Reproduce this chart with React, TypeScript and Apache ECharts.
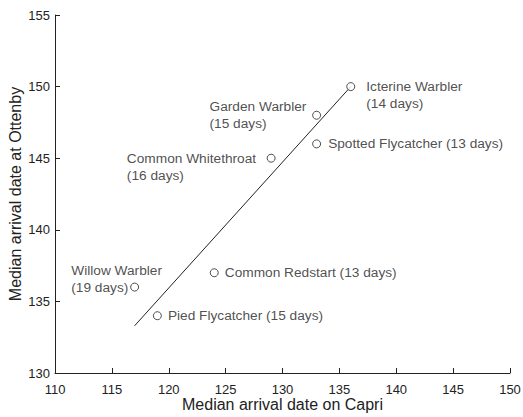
import React, { useEffect, useRef } from "react";
import * as echarts from "echarts";

const species = [
  "Icterine Warbler",
  "Garden Warbler",
  "Spotted Flycatcher",
  "Common Whitethroat",
  "Common Redstart",
  "Willow Warbler",
  "Pied Flycatcher",
];
const capriDates = [136, 133, 133, 129, 124, 117, 119];
const ottenbyDates = [150, 148, 146, 145, 137, 136, 134];
const travelDays = [14, 15, 13, 16, 13, 19, 15];
const fitLine = [
  [117, 133.3],
  [136, 150],
];
const xTicks = { min: 110, max: 150, interval: 5 };
const yTicks = { min: 130, max: 155, interval: 5 };

// label layout: offset of text box top-left from the marker centre, and whether to break line
const labelLayout: Record<string, { dx: number; dy: number; multi: boolean }> = {
  "Icterine Warbler": { dx: 16, dy: -8.5, multi: true },
  "Garden Warbler": { dx: -106.6, dy: -16.7, multi: true },
  "Spotted Flycatcher": { dx: 12, dy: -8.5, multi: false },
  "Common Whitethroat": { dx: -143.8, dy: -8.1, multi: true },
  "Common Redstart": { dx: 11, dy: -8.5, multi: false },
  "Willow Warbler": { dx: -62.9, dy: -24.5, multi: true },
  "Pied Flycatcher": { dx: 11, dy: -8.5, multi: false },
};

const FONT = "'Liberation Sans', Arial, Helvetica, sans-serif";
const SYM = 8;
const INK = "#222";

export default function App() {
  const ref = useRef<HTMLDivElement>(null);
  useEffect(() => {
    if (!ref.current) return;
    const chart = echarts.init(ref.current, undefined, { renderer: "svg" });
    const points = species.map((name, i) => {
      const l = labelLayout[name];
      const text = `${name}${l.multi ? "\n" : " "}(${travelDays[i]} days)`;
      return {
        name,
        value: [capriDates[i], ottenbyDates[i]],
        label: {
          show: true,
          formatter: text,
          position: [l.dx + SYM / 2, l.dy + SYM / 2],
          align: "left",
          verticalAlign: "top",
        },
      };
    });
    chart.setOption({
      animation: false,
      backgroundColor: "#ffffff",
      textStyle: { fontFamily: FONT },
      grid: { left: 55, right: 13, top: 15, bottom: 44, containLabel: false, outerBoundsMode: "none" },
      xAxis: {
        type: "value",
        min: xTicks.min,
        max: xTicks.max,
        interval: xTicks.interval,
        name: "Median arrival date on Capri",
        nameLocation: "middle",
        nameGap: 23,
        nameMoveOverlap: false,
        nameTextStyle: { fontSize: 16, color: INK, fontFamily: FONT },
        axisLine: { show: true, lineStyle: { color: INK, width: 1 } },
        axisTick: { show: true, inside: true, length: 5, lineStyle: { color: INK } },
        axisLabel: { fontSize: 13, color: INK, margin: 10, fontFamily: FONT },
        splitLine: { show: false },
      },
      yAxis: {
        type: "value",
        min: yTicks.min,
        max: yTicks.max,
        interval: yTicks.interval,
        name: "Median arrival date at Ottenby",
        nameLocation: "middle",
        nameGap: 32,
        nameMoveOverlap: false,
        nameTextStyle: { fontSize: 16, color: INK, fontFamily: FONT },
        axisLine: { show: true, lineStyle: { color: INK, width: 1 } },
        axisTick: { show: true, inside: true, length: 5, lineStyle: { color: INK } },
        axisLabel: { fontSize: 13, color: INK, margin: 5, fontFamily: FONT },
        splitLine: { show: false },
      },
      series: [
        {
          type: "line",
          data: fitLine,
          symbol: "none",
          lineStyle: { color: INK, width: 1 },
          silent: true,
          z: 1,
        },
        {
          type: "scatter",
          data: points,
          symbol: "circle",
          symbolSize: SYM,
          itemStyle: { color: "#ffffff", borderColor: INK, borderWidth: 1 },
          label: { fontSize: 13.7, color: INK, lineHeight: 17, fontFamily: FONT },
          z: 2,
        },
      ],
    });
    return () => chart.dispose();
  }, []);
  return <div ref={ref} style={{ width: 523, height: 417, position: "absolute", left: 0, top: 0 }} />;
}
